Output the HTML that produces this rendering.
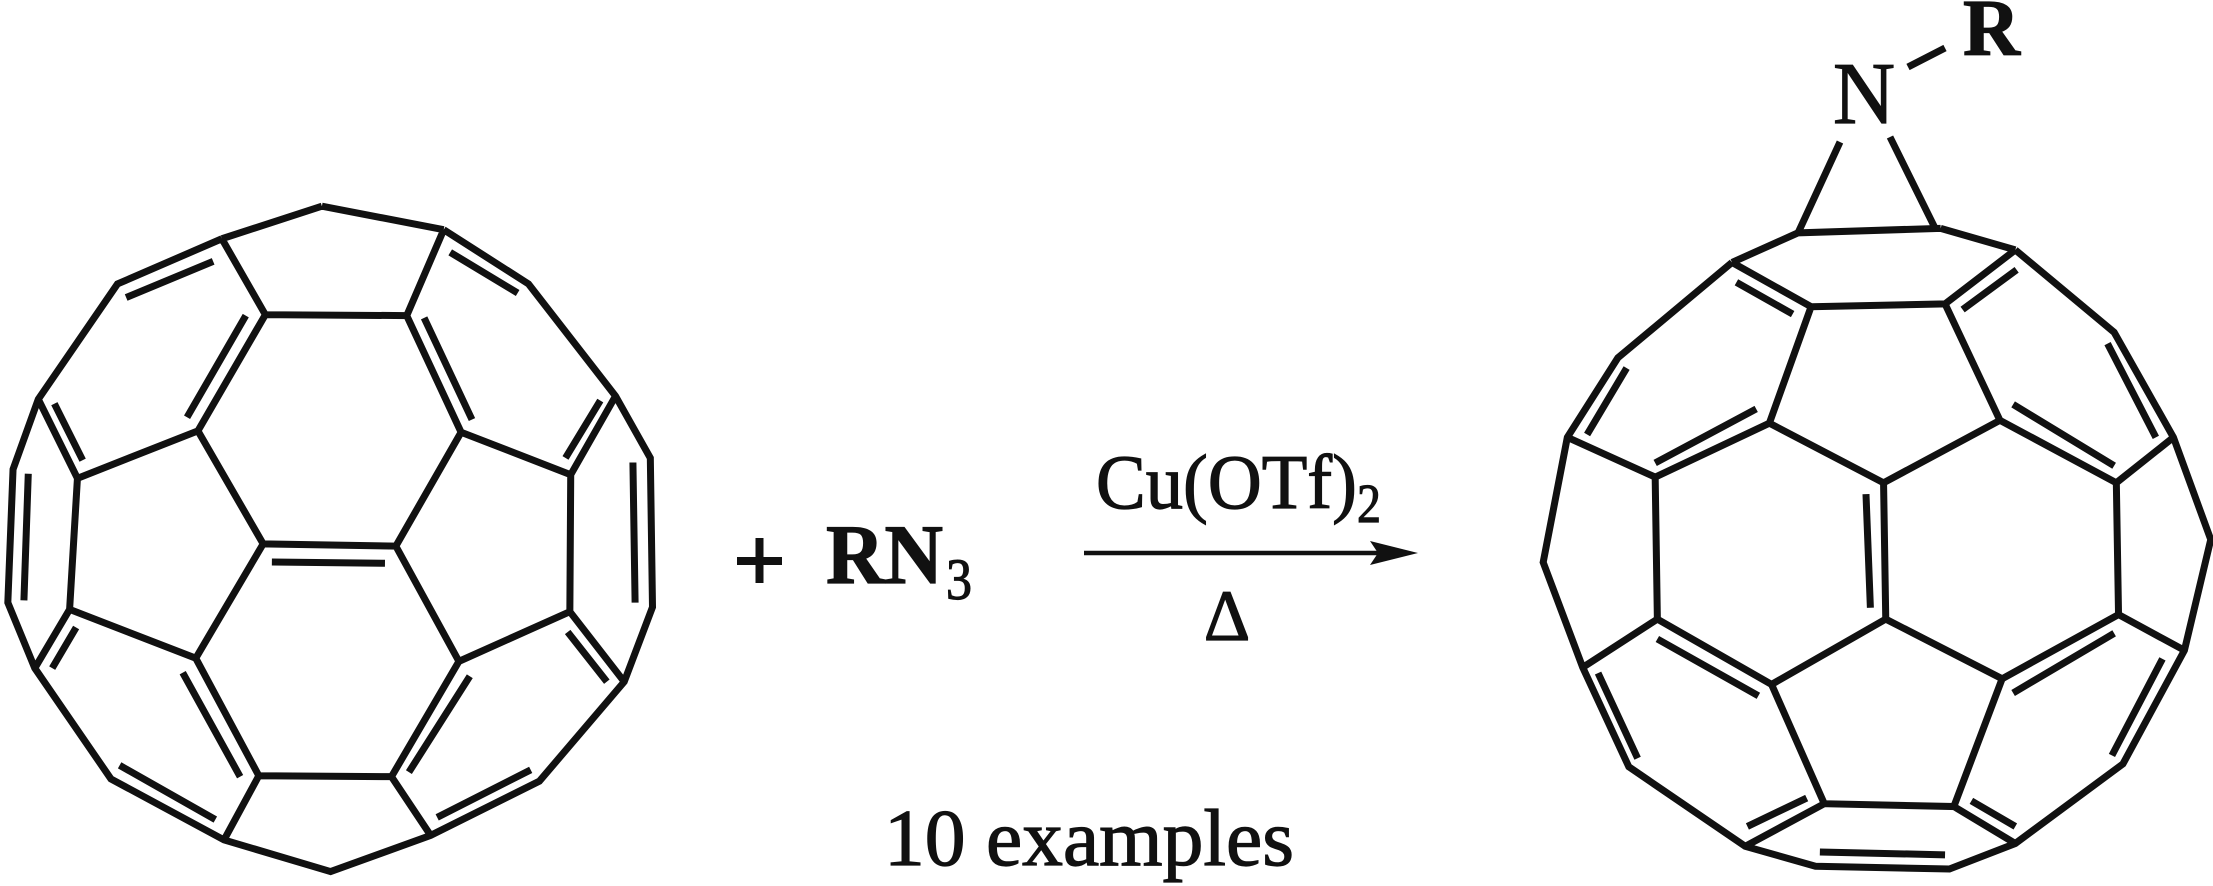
<!DOCTYPE html>
<html><head><meta charset="utf-8"><style>
html,body{margin:0;padding:0;background:#fff;}
svg{display:block;}
text{font-family:"Liberation Serif",serif;fill:#111;stroke:#111;stroke-width:1.2;}
</style></head><body>
<svg width="2213" height="886" viewBox="0 0 2213 886" xmlns="http://www.w3.org/2000/svg">
<g transform="translate(0,180) scale(0.435,0.452)" fill="none" stroke="#111" stroke-width="7" stroke-linejoin="miter" stroke-linecap="butt">
<path vector-effect="non-scaling-stroke" d="
M740,58 L510,130 M740,58 L1020,110
M510,130 L270,230 L88,485 L30,640 L18,935 L80,1080 L255,1325 L515,1460 L760,1530 L990,1450 L1240,1330 L1435,1110 L1500,945 L1495,615 L1415,478 L1215,230 L1020,110
M290,260 L490,180 M65,650 L55,930 M275,1295 L495,1415 M1005,1410 L1220,1305 M1455,625 L1460,935 M1035,160 L1190,250
M510,130 L610,298 L935,300 L1020,110
M610,298 L455,555 M565,300 L430,525
M935,300 L1060,558 M975,305 L1085,530
M88,485 L178,660 M125,495 L190,620
M178,660 L455,555 M178,660 L160,950 L80,1080 M175,990 L120,1080
M455,555 L605,805 L910,810 L1060,558 M625,845 L885,848
M605,805 L450,1058 M910,810 L1055,1065
M160,950 L450,1058 L595,1318 L900,1320 L1055,1065
M420,1090 L552,1320 M940,1310 L1080,1098
M595,1318 L515,1460 M900,1320 L990,1450
M1055,1065 L1310,955 L1435,1110 M1305,1000 L1395,1110
M1310,955 L1312,652 L1060,558 M1312,652 L1415,478 M1300,615 L1380,488
"/>
</g>
<g transform="translate(1530,0) scale(0.4392,0.568)" fill="none" stroke="#111" stroke-width="7">
<path vector-effect="non-scaling-stroke" d="
M610,410 L935,402
M610,410 L460,462 M935,402 L1105,440
M460,462 L640,540 L945,535 L1105,440 M470,497 L598,553 M985,545 L1108,475
M460,462 L200,630 L85,770 L30,990 L120,1175 L225,1350 L490,1490 L650,1525 L955,1530 L1105,1485 L1350,1345 L1490,1145 L1550,950 L1465,770 L1330,585 L1105,440
M130,765 L220,648 M155,1185 L245,1335 M660,1500 L945,1505 M1315,605 L1425,770
M640,540 L545,745 M945,535 L1070,740
M85,770 L285,840 L545,745 M285,815 L515,720
M545,745 L805,850 L1070,740 L1335,850 L1465,770 M1100,712 L1330,820
M285,840 L290,1090 L120,1175 M1335,850 L1340,1082 L1490,1145 M1440,1160 L1325,1330
M805,850 L810,1090 M765,870 L775,1070
M290,1090 L550,1205 L810,1090 L1075,1195 L1340,1082 M290,1125 L520,1225 M1100,1220 L1330,1115
M550,1205 L670,1415 L965,1420 L1075,1195
M670,1415 L490,1490 M495,1455 L630,1405
M965,1420 L1105,1485 M1005,1410 L1105,1455
"/>
</g>
<g stroke="#111" stroke-width="7" fill="none">
<path d="M1840,142 L1798,233 M1890,137 L1935,228 M1908,67 L1945,48"/>
</g>
<text x="1833" y="123" font-size="88" textLength="62" lengthAdjust="spacingAndGlyphs">N</text>
<text x="1963" y="55" font-size="80" font-weight="bold" textLength="57" lengthAdjust="spacingAndGlyphs">R</text>
<g stroke="#111" stroke-width="8"><line x1="737" y1="561" x2="782" y2="561"/><line x1="759.5" y1="538" x2="759.5" y2="583"/></g>
<text x="826" y="583" font-size="85" font-weight="bold" textLength="117" lengthAdjust="spacingAndGlyphs">RN</text>
<text x="946" y="599" font-size="58" textLength="26" lengthAdjust="spacingAndGlyphs">3</text>
<text x="1096" y="508" font-size="77" textLength="261" lengthAdjust="spacingAndGlyphs">Cu(OTf)</text>
<text x="1357" y="522" font-size="55" textLength="24" lengthAdjust="spacingAndGlyphs">2</text>
<line x1="1084" y1="553" x2="1395" y2="553" stroke="#111" stroke-width="4.5"/>
<polygon points="1418,553 1370,541 1378,553 1370,565" fill="#111"/>
<text x="1227" y="640" font-size="72" text-anchor="middle">Δ</text>
<text x="884" y="865" font-size="80" textLength="410" lengthAdjust="spacingAndGlyphs">10 examples</text>
</svg>
</body></html>
